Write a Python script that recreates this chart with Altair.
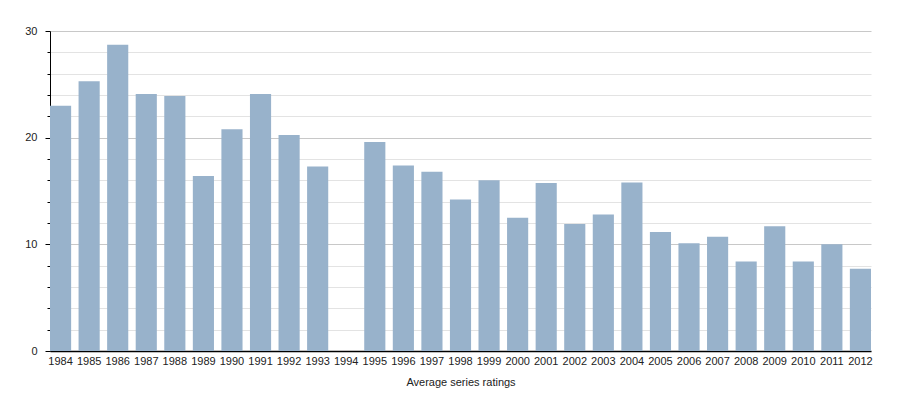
import altair as alt
import pandas as pd

years = [str(y) for y in range(1984, 2013)]
ratings = [23.0, 25.3, 28.7, 24.1, 23.9, 16.4, 20.8, 24.1, 20.25, 17.3, None,
           19.6, 17.4, 16.8, 14.2, 16.0, 12.5, 15.75, 11.9, 12.8, 15.8,
           11.15, 10.1, 10.7, 8.4, 11.7, 8.4, 10.0, 7.7]
y_ticks = list(range(0, 31, 2))

df = pd.DataFrame({"year": years, "rating": ratings})

chart = alt.Chart(df).mark_bar(color="#98b2cb").encode(
    x=alt.X("year:O", sort=years,
            scale=alt.Scale(domain=years, paddingInner=0.26, paddingOuter=0),
            axis=alt.Axis(title="Average series ratings", labelAngle=0, grid=False,
                          ticks=False, domainColor="#000000", domainWidth=1.5,
                          labelPadding=4, titlePadding=10,
                          labelFont="Liberation Sans", labelFontSize=11,
                          labelColor="#222222",
                          titleFont="Liberation Sans", titleFontSize=11,
                          titleFontWeight="normal", titleColor="#222222")),
    y=alt.Y("rating:Q",
            scale=alt.Scale(domain=[0, 30], nice=False),
            axis=alt.Axis(title=None, values=y_ticks, grid=True,
                          labelExpr="datum.value % 10 === 0 ? datum.label : ''",
                          gridColor={"condition": {"test": "datum.value % 10 === 0", "value": "#c8c8c8"}, "value": "#e3e3e3"},
                          tickSize={"condition": {"test": "datum.value % 10 === 0", "value": 5}, "value": 3},
                          tickColor="#000000", domainColor="#000000",
                          labelPadding=8,
                          labelFont="Liberation Sans", labelFontSize=11,
                          labelColor="#222222")),
).properties(
    width=821, height=320,
    autosize=alt.AutoSizeParams(type="none"),
    padding={"left": 50, "top": 31, "right": 29, "bottom": 49},
).configure_view(stroke=None)

chart.save("out.html", embed_options={"renderer": "svg", "actions": False})
